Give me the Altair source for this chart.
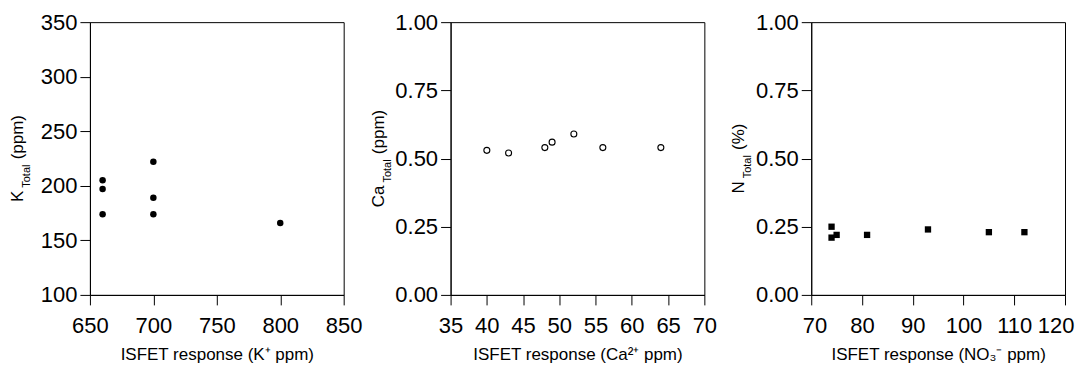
import altair as alt
import pandas as pd

# ---- data ----
k_isfet = [660, 660, 660, 700, 700, 700, 800]
k_total = [205, 197, 174, 222, 189, 174, 166]

ca_isfet = [40, 43, 48, 49, 52, 56, 64]
ca_total = [0.53, 0.52, 0.54, 0.56, 0.59, 0.54, 0.54]

n_isfet = [74, 74, 75, 81, 93, 105, 112]
n_total = [0.25, 0.21, 0.22, 0.22, 0.24, 0.23, 0.23]

k_xticks = [650, 700, 750, 800, 850]
k_yticks = [100, 150, 200, 250, 300, 350]
ca_xticks = [35, 40, 45, 50, 55, 60, 65, 70]
n_xticks = [70, 80, 90, 100, 110, 120]
frac_yticks = [0.0, 0.25, 0.5, 0.75, 1.0]

x_titles = ["ISFET response (K\u207a ppm)",
            "ISFET response (Ca\u00b2\u207a ppm)",
            "ISFET response (NO\u2083\u207b ppm)"]
y_mains = ["K", "Ca", "N"]
y_units = ["(ppm)", "(ppm)", "(%)"]
y_sub = "Total"

# ---- layout / style ----
W, H = 254, 273
FONT = "Liberation Sans"
BIG, SMALL = 17, 11
TX, SX = -67, -60
ARIAL = {'K': .667, 'C': .722, 'a': .556, 'N': .722, '(': .333, ')': .333,
         'p': .556, 'm': .833, '%': .889, ' ': .278, 'T': .611, 'o': .556,
         't': .278, 'l': .222}


def tw(s, size):
    return sum(ARIAL.get(c, .556) for c in s) * size


def y_title(main, unit):
    g1, g2 = 3, 4
    L = tw(main, BIG) + g1 + tw(y_sub, SMALL) + g2 + tw(unit, BIG)
    y0 = H / 2 + L / 2
    y1 = y0 - tw(main, BIG) - g1
    y2 = y1 - tw(y_sub, SMALL) - g2
    one = pd.DataFrame({"a": [0]})
    base = dict(angle=270, align="left", baseline="alphabetic", font=FONT, color="black")
    t1 = alt.Chart(one).mark_text(text=main, fontSize=BIG, **base).encode(
        x=alt.value(TX), y=alt.value(y0))
    t2 = alt.Chart(one).mark_text(text=y_sub, fontSize=SMALL, **base).encode(
        x=alt.value(SX), y=alt.value(y1))
    t3 = alt.Chart(one).mark_text(text=unit, fontSize=BIG, **base).encode(
        x=alt.value(TX), y=alt.value(y2))
    return t1 + t2 + t3


def panel(xs, ys, xdom, xticks, ydom, yticks, yfmt, xtitle, main, unit, mark, xaxis_extra=None):
    df = pd.DataFrame({"x": xs, "y": ys})
    xa = dict(values=xticks, title=xtitle, format="d")
    if xaxis_extra:
        xa.update(xaxis_extra)
    pts = mark(alt.Chart(df)).encode(
        x=alt.X("x:Q", scale=alt.Scale(domain=xdom, nice=False, zero=False),
                axis=alt.Axis(**xa)),
        y=alt.Y("y:Q", scale=alt.Scale(domain=ydom, nice=False, zero=False),
                axis=alt.Axis(values=yticks, title="", format=yfmt)),
    )
    return alt.layer(pts, y_title(main, unit)).properties(width=W, height=H)


p1 = panel(k_isfet, k_total, [650, 850], k_xticks, [100, 350], k_yticks, "d",
           x_titles[0], y_mains[0], y_units[0],
           lambda c: c.mark_point(shape="circle", filled=True, size=42, color="black", opacity=1))
p2 = panel(ca_isfet, ca_total, [35, 70], ca_xticks, [0, 1], frac_yticks, ".2f",
           x_titles[1], y_mains[1], y_units[1],
           lambda c: c.mark_point(shape="circle", filled=False, size=36, color="black",
                                  strokeWidth=1.1, opacity=1))
p3 = panel(n_isfet, n_total, [70, 120], n_xticks, [0, 1], frac_yticks, ".2f",
           x_titles[2], y_mains[2], y_units[2],
           lambda c: c.mark_point(shape="square", filled=True, size=40, color="black", opacity=1),
           xaxis_extra=dict(labelFlush=True, labelFlushOffset=9))

chart = alt.hconcat(p1, p2, p3, spacing=107, bounds="flush").properties(
    padding={"left": 0, "top": 2, "right": 0, "bottom": 0},
    background="white",
).configure_axis(
    grid=False, domainColor="black", tickColor="black", labelColor="black",
    titleColor="black", labelFont=FONT, titleFont=FONT, labelFontSize=22,
    titleFontSize=BIG, titleFontWeight="normal", tickSize=10, domainWidth=1, tickWidth=1,
    labelFlush=False, labelOverlap=False,
).configure_axisX(labelPadding=11, titlePadding=10).configure_axisY(labelPadding=3).configure_view(
    stroke="black", strokeWidth=1
)

chart.save("out.html", embed_options={"renderer": "svg", "actions": False})
